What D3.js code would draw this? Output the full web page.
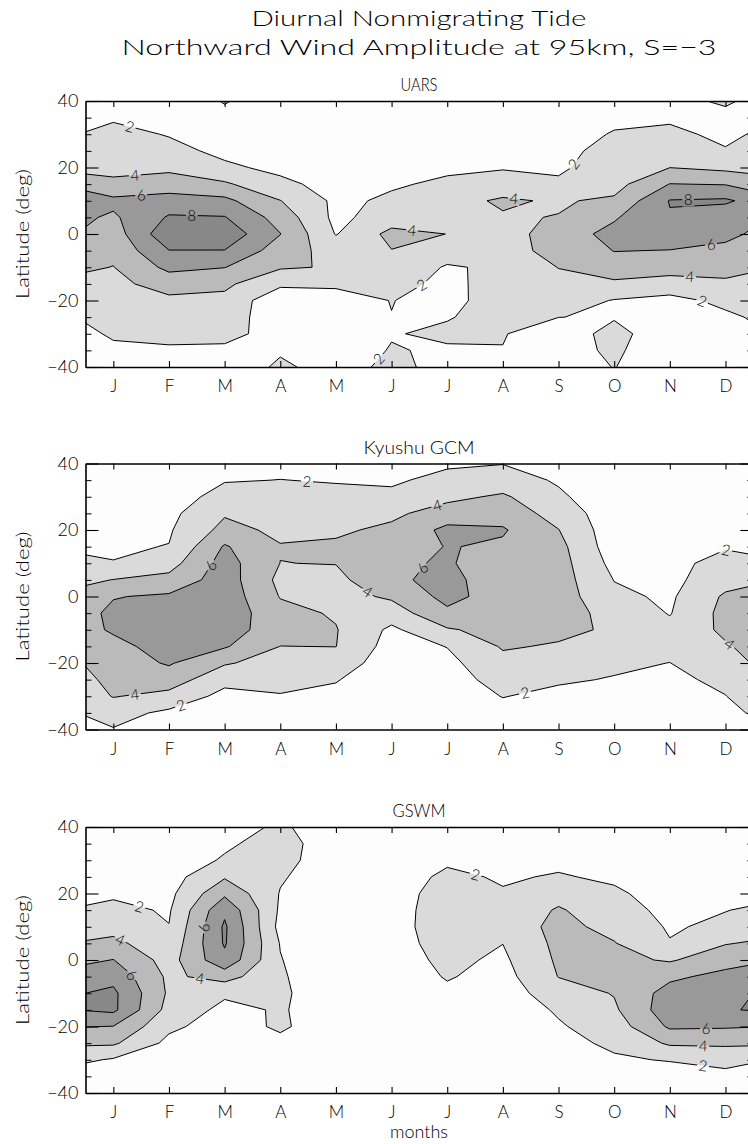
<!DOCTYPE html>
<html>
<head>
<meta charset="utf-8">
<script src="https://cdn.jsdelivr.net/npm/d3@7"></script>
<style>
body { margin: 0; background: #fff; }
text { font-family: Lato, "Liberation Sans", Arial, sans-serif; font-weight: 300; fill: #000; }
</style>
</head>
<body>
<svg id="chart" width="748" height="1144"></svg>
<script>
/* month letters and latitude rows (-40 .. 40 every 5 deg) */
var months = ["J", "F", "M", "A", "M", "J", "J", "A", "S", "O", "N", "D"];
var lats = d3.range(-40, 41, 5);
var latMajor = [-40, -20, 0, 20, 40];
var levels = [2, 4, 6, 8];

/* amplitude per month, each row = values from lat -40 to lat 40 */
var uarsAmp = [
  [1.4, 1.7, 2.2, 2.6, 3.0, 3.5, 3.95, 4.5, 5.0, 5.7, 6.5, 4.3, 3.6, 3.0, 2.5, 1.8, 1.2],
  [1.4, 1.8, 2.4, 3.0, 3.6, 4.8, 6.5, 7.95, 9.5, 8.2, 6.9, 4.9, 3.6, 2.5, 1.9, 1.5, 1.0],
  [0.8, 1.8, 2.3, 2.9, 3.5, 4.4, 6.05, 7.95, 9.3, 8.1, 6.5, 4.3, 2.3, 1.6, 1.7, 1.6, 2.1],
  [2.3, 1.8, 1.6, 0.9, 0.5, 2.4, 4.2, 5.0, 6.05, 5.2, 4.05, 2.4, 1.6, 1.6, 1.4, 1.3, 1.2],
  [1.3, 1.1, 1.0, 1.2, 1.5, 2.2, 3.85, 3.2, 1.9, 1.5, 1.6, 1.4, 1.3, 1.2, 1.1, 1.0, 1.0],
  [2.4, 2.1, 1.9, 1.98, 2.03, 2.4, 3.5, 3.95, 4.56, 3.0, 2.3, 1.8, 1.5, 1.3, 1.2, 1.1, 1.0],
  [1.5, 1.8, 2.3, 1.9, 1.6, 1.7, 1.8, 3.0, 3.98, 3.3, 3.5, 2.3, 1.7, 1.5, 1.3, 1.2, 1.1],
  [1.4, 1.95, 2.1, 2.6, 2.65, 2.5, 2.35, 3.3, 3.0, 3.87, 4.2, 3.2, 1.8, 1.5, 1.3, 1.1, 1.0],
  [1.1, 1.3, 1.0, 2.02, 2.9, 3.4, 4.05, 4.6, 5.1, 4.05, 3.83, 2.3, 1.7, 1.5, 1.4, 1.2, 1.0],
  [2.05, 2.3, 2.6, 1.85, 1.9, 3.6, 5.2, 6.05, 6.55, 5.8, 4.3, 3.3, 3.0, 2.6, 2.1, 1.7, 1.3],
  [0.9, 0.8, 0.8, 1.0, 1.5, 3.0, 5.0, 5.95, 7.0, 7.85, 8.1, 6.05, 3.98, 2.8, 2.3, 1.8, 1.6],
  [0.9, 1.0, 1.2, 1.7, 2.4, 3.7, 4.6, 5.5, 6.5, 6.8, 8.3, 5.9, 3.5, 2.1, 1.7, 1.6, 2.2]
];

var kyushuAmp = [
  [1.9, 2.7, 4.1, 4.6, 5.0, 5.3, 6.3, 6.4, 5.9, 4.05, 2.05, 1.8, 1.5, 1.2, 1.0, 0.9, 0.8],
  [1.0, 1.6, 3.4, 5.0, 6.2, 7.0, 7.2, 7.0, 6.3, 4.6, 3.2, 2.05, 1.8, 1.5, 1.2, 1.0, 0.8],
  [0.8, 1.0, 1.4, 2.6, 4.2, 6.2, 7.0, 7.3, 7.2, 7.0, 6.8, 6.2, 4.6, 3.8, 2.6, 1.9, 1.2],
  [1.0, 1.4, 1.9, 2.5, 3.2, 3.98, 4.8, 4.6, 3.9, 3.5, 3.98, 4.1, 3.6, 3.2, 2.6, 2.02, 1.6],
  [0.9, 1.2, 1.6, 2.1, 3.0, 4.03, 4.1, 3.8, 3.3, 3.5, 4.05, 4.3, 3.7, 3.0, 2.4, 1.9, 1.5],
  [0.9, 0.9, 0.9, 0.9, 1.0, 1.2, 1.6, 3.0, 4.3, 5.5, 5.5, 4.8, 4.4, 3.6, 2.3, 1.8, 1.4],
  [0.9, 1.0, 1.1, 1.2, 1.5, 2.05, 3.8, 5.6, 6.6, 6.8, 6.3, 6.1, 6.5, 4.9, 3.5, 2.4, 1.8],
  [1.1, 1.5, 2.05, 2.7, 3.4, 4.2, 4.7, 5.0, 5.06, 4.45, 4.4, 5.7, 6.2, 5.2, 4.3, 2.8, 1.95],
  [1.0, 1.2, 1.6, 2.2, 3.0, 3.8, 4.5, 4.9, 5.0, 4.9, 4.8, 4.6, 4.05, 3.2, 2.3, 1.8, 1.3],
  [1.1, 1.4, 1.7, 1.9, 2.3, 3.2, 3.7, 3.3, 2.4, 1.95, 1.4, 0.9, 0.8, 0.8, 0.8, 0.7, 0.7],
  [0.9, 1.1, 1.3, 1.5, 1.98, 2.6, 2.5, 1.9, 1.7, 1.5, 1.3, 1.1, 0.9, 0.8, 0.7, 0.6, 0.6],
  [1.3, 1.6, 1.95, 2.5, 3.2, 3.8, 4.4, 4.6, 4.3, 3.2, 2.85, 1.8, 1.4, 1.1, 0.9, 0.7, 0.6]
];

var gswmAmp = [
  [0.5, 0.8, 1.8, 4.3, 5.95, 8.4, 8.4, 7.4, 6.05, 4.5, 3.3, 2.5, 1.7, 1.2, 0.8, 0.5, 0.3],
  [0.4, 0.6, 0.9, 1.5, 2.4, 3.3, 3.7, 3.6, 3.2, 2.6, 2.05, 1.8, 1.5, 1.2, 0.9, 0.6, 0.4],
  [0.3, 0.4, 0.6, 0.8, 1.1, 1.5, 2.3, 4.8, 7.5, 8.2, 8.3, 7.6, 5.6, 3.8, 2.2, 1.7, 1.2],
  [0.4, 0.6, 1.0, 1.5, 2.3, 2.18, 2.4, 2.3, 2.1, 1.9, 1.4, 1.7, 1.9, 2.2, 2.6, 2.8, 2.3],
  [0.2, 0.2, 0.3, 0.5, 0.8, 1.0, 0.5, 0.15, 0.1, 0.3, 0.5, 0.6, 0.7, 0.8, 0.93, 0.85, 0.87],
  [0.2, 0.2, 0.2, 0.2, 0.2, 0.3, 0.5, 0.8, 1.1, 1.3, 1.35, 1.3, 1.2, 1.0, 0.8, 0.6, 0.5],
  [0.3, 0.3, 0.4, 0.6, 0.9, 1.2, 1.6, 2.15, 2.45, 2.7, 2.9, 2.9, 2.8, 2.4, 1.7, 1.3, 1.0],
  [0.3, 0.3, 0.4, 0.5, 0.6, 0.8, 1.0, 1.3, 1.66, 2.02, 2.7, 2.6, 2.15, 1.8, 1.5, 1.2, 0.9],
  [0.6, 0.9, 1.2, 1.5, 1.8, 2.23, 3.1, 4.05, 4.3, 4.5, 4.6, 4.2, 3.3, 2.15, 1.6, 1.1, 0.8],
  [0.8, 1.2, 1.8, 2.3, 3.0, 3.7, 4.1, 4.6, 4.5, 4.1, 3.4, 2.8, 2.3, 1.7, 1.2, 0.8, 0.6],
  [0.7, 1.2, 2.1, 4.3, 6.3, 7.2, 6.8, 5.6, 3.8, 2.1, 1.8, 1.5, 1.2, 0.9, 0.6, 0.4, 0.3],
  [0.7, 1.3, 2.8, 4.3, 6.2, 7.85, 7.6, 6.6, 5.2, 3.9, 2.4, 1.95, 1.6, 1.2, 0.8, 0.5, 0.3]
];

/* contour labels: [month position (0 = start of Jan), latitude, level] */
var uarsLabels = [
  [0.80, 32.7, 2], [0.89, 16.8, 4], [1.0, 12, 6], [1.91, 6, 8], [5.87, 1.8, 4],
  [7.70, 10.8, 4], [8.92, 19.2, 2], [10.83, 10.3, 8], [11.24, -3, 6], [10.86, -13.2, 4],
  [11.10, -19.5, 2], [5.99, -13.8, 2], [5.13, -35.4, 2]
];
var kyushuLabels = [
  [3.98, 34.5, 2], [2.15, 10.5, 6], [5.06, 1.2, 4], [6.30, 28.5, 4], [6.05, 8.7, 6],
  [11.53, 15.9, 2], [11.63, -13, 4], [0.89, -29.7, 4], [1.72, -33, 2], [7.90, -29, 2]
];
var gswmLabels = [
  [0.94, 14.2, 2], [0.62, 5.9, 4], [0.84, -4.4, 6], [2.09, 9.8, 6], [2.06, -5.3, 4],
  [7.0, 25, 2], [11.15, -20.8, 6], [11.1, -25.8, 4], [11.1, -31.5, 2]
];

/* grijswaarden per contourband */
var shades = ["#fdfdfd", "#dadada", "#bababa", "#999999", "#888888"];

var svg = d3.select("#chart");
var plotH = 266;
var x = d3.scaleLinear().domain([0, 12]).range([85.5, 753.3]);

svg.append("text")
  .attr("x", 419).attr("y", 26)
  .attr("text-anchor", "middle")
  .attr("font-size", 22)
  .attr("textLength", 335).attr("lengthAdjust", "spacingAndGlyphs")
  .text("Diurnal Nonmigrating Tide");

svg.append("text")
  .attr("x", 419).attr("y", 55)
  .attr("text-anchor", "middle")
  .attr("font-size", 22)
  .attr("textLength", 595).attr("lengthAdjust", "spacingAndGlyphs")
  .text("Northward Wind Amplitude at 95km, S=\u22123");

var panels = [
  {title: "UARS", amp: uarsAmp, labels: uarsLabels, top: 101, tl: 37},
  {title: "Kyushu GCM", amp: kyushuAmp, labels: kyushuLabels, top: 463.5, tl: 111},
  {title: "GSWM", amp: gswmAmp, labels: gswmLabels, top: 827, tl: 53}
];

/* het grid krijgt een extra kolom aan beide kanten (december voor januari, januari na december) */
function buildGrid(amp) {
  var nx = 14, ny = lats.length, vals = new Array(nx * ny);
  for (var j = 0; j < ny; j++) {
    for (var c = 0; c < nx; c++) {
      vals[j * nx + c] = amp[(c + 11) % 12][j];
    }
  }
  return vals;
}

panels.forEach(function(p, i) {
  var y = d3.scaleLinear().domain([-40, 40]).range([p.top + plotH, p.top]);
  var px = function(gx) { return x(gx - 1); };
  var py = function(gy) { return y(-40 + 5 * (gy - 0.5)); };

  svg.append("text")
    .attr("x", 419).attr("y", p.top - 10)
    .attr("text-anchor", "middle")
    .attr("font-size", 18)
    .attr("textLength", p.tl).attr("lengthAdjust", "spacingAndGlyphs")
    .text(p.title);

  svg.append("text")
    .attr("transform", "translate(29," + y(0) + ") rotate(-90)")
    .attr("text-anchor", "middle")
    .attr("font-size", 17)
    .attr("textLength", 130).attr("lengthAdjust", "spacingAndGlyphs")
    .text("Latitude (deg)");

  var clipId = "clip" + i;
  svg.append("clipPath").attr("id", clipId)
    .append("rect")
      .attr("x", x(0)).attr("y", p.top)
      .attr("width", x(12) - x(0)).attr("height", plotH);

  var plot = svg.append("g").attr("clip-path", "url(#" + clipId + ")");

  plot.append("rect")
    .attr("x", x(0)).attr("y", p.top)
    .attr("width", x(12) - x(0)).attr("height", plotH)
    .attr("fill", shades[0]);

  var conts = d3.contours().size([14, lats.length]).thresholds(levels)(buildGrid(p.amp));

  var proj = d3.geoTransform({
    point: function(gx, gy) { this.stream.point(px(gx), py(gy)); }
  });
  var path = d3.geoPath(proj);

  plot.selectAll("path.band")
    .data(conts)
    .join("path")
      .attr("class", "band")
      .attr("d", path)
      .attr("fill", function(d, k) { return shades[k + 1]; });

  /* labels op de dichtstbijzijnde contourlijn zetten, hoek volgt de lijn */
  var placed = p.labels.map(function(l) {
    var tx = x(l[0]), ty = y(l[1]);
    var cont = conts[levels.indexOf(l[2])];
    var best = {dist: Infinity, x: tx, y: ty, a: 0};
    cont.coordinates.forEach(function(poly) {
      poly.forEach(function(ring) {
        for (var k = 0; k < ring.length - 1; k++) {
          var ax = px(ring[k][0]), ay = py(ring[k][1]);
          var bx = px(ring[k + 1][0]), by = py(ring[k + 1][1]);
          var dx = bx - ax, dy = by - ay;
          var len2 = dx * dx + dy * dy;
          if (len2 === 0) continue;
          var t = Math.max(0, Math.min(1, ((tx - ax) * dx + (ty - ay) * dy) / len2));
          var qx = ax + t * dx, qy = ay + t * dy;
          var dd = (qx - tx) * (qx - tx) + (qy - ty) * (qy - ty);
          if (dd < best.dist) {
            var a = Math.atan2(dy, dx) * 180 / Math.PI;
            if (a > 90) a -= 180;
            if (a < -90) a += 180;
            best = {dist: dd, x: qx, y: qy, a: a};
          }
        }
      });
    });
    return {x: best.x, y: best.y, a: best.a, text: String(l[2])};
  });

  var maskId = "mask" + i;
  var mask = svg.append("mask").attr("id", maskId)
    .attr("maskUnits", "userSpaceOnUse")
    .attr("x", 0).attr("y", 0).attr("width", 748).attr("height", 1144);
  mask.append("rect").attr("width", 748).attr("height", 1144).attr("fill", "white");
  mask.selectAll("rect.gap")
    .data(placed)
    .join("rect")
      .attr("class", "gap")
      .attr("x", -6).attr("y", -7).attr("width", 12).attr("height", 14)
      .attr("transform", function(d) { return "translate(" + d.x + "," + d.y + ") rotate(" + d.a + ")"; })
      .attr("fill", "black");

  plot.append("g").attr("mask", "url(#" + maskId + ")")
    .selectAll("path")
    .data(conts)
    .join("path")
      .attr("d", path)
      .attr("fill", "none")
      .attr("stroke", "#000")
      .attr("stroke-width", 1);

  plot.selectAll("text.lab")
    .data(placed)
    .join("text")
      .attr("class", "lab")
      .attr("transform", function(d) { return "translate(" + d.x + "," + d.y + ") rotate(" + d.a + ")"; })
      .attr("text-anchor", "middle")
      .attr("dy", "0.36em")
      .attr("font-size", 15)
      .text(function(d) { return d.text; });

  /* assen */
  var monthTicks = d3.range(12).map(function(k) { return k + 0.5; });
  var minorLats = lats.filter(function(v) { return v % 20 !== 0; });

  function styleAxis(g) {
    g.attr("font-size", 18).attr("font-family", null);
    g.select(".domain").attr("stroke-width", 1.6);
    g.selectAll(".tick line").attr("stroke-width", 1.1);
  }
  function noDomain(g) { g.select(".domain").remove(); }

  svg.append("g")
    .attr("transform", "translate(" + x(0) + ",0)")
    .call(d3.axisLeft(y).tickValues(latMajor).tickSize(-13).tickSizeOuter(0).tickPadding(7).tickFormat(d3.format("d")))
    .call(styleAxis);
  svg.append("g")
    .attr("transform", "translate(" + x(0) + ",0)")
    .call(d3.axisLeft(y).tickValues(minorLats).tickSize(-6).tickFormat(""))
    .call(noDomain);

  svg.append("g")
    .attr("transform", "translate(" + x(12) + ",0)")
    .call(d3.axisRight(y).tickValues(latMajor).tickSize(-13).tickSizeOuter(0).tickFormat(""))
    .call(styleAxis);
  svg.append("g")
    .attr("transform", "translate(" + x(12) + ",0)")
    .call(d3.axisRight(y).tickValues(minorLats).tickSize(-6).tickFormat(""))
    .call(noDomain);

  svg.append("g")
    .attr("transform", "translate(0," + y(-40) + ")")
    .call(d3.axisBottom(x).tickValues(monthTicks).tickSize(-6).tickSizeOuter(0).tickPadding(13)
      .tickFormat(function(d) { return months[Math.floor(d)]; }))
    .call(styleAxis)
    .call(function(g) { g.selectAll("text").attr("font-size", 17); });

  svg.append("g")
    .attr("transform", "translate(0," + y(40) + ")")
    .call(d3.axisTop(x).tickValues(monthTicks).tickSize(-6).tickSizeOuter(0).tickFormat(""))
    .call(styleAxis);
});

svg.append("text")
  .attr("x", 419).attr("y", 1138)
  .attr("text-anchor", "middle")
  .attr("font-size", 17)
  .attr("textLength", 58).attr("lengthAdjust", "spacingAndGlyphs")
  .text("months");
</script>
</body>
</html>
